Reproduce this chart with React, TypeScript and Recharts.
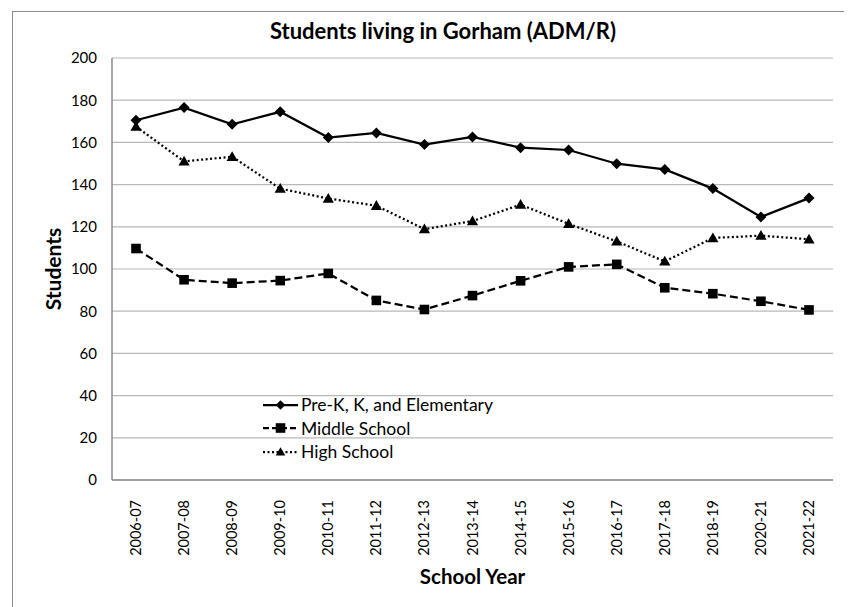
import { LineChart, Line, XAxis, YAxis, CartesianGrid } from "recharts";

const years = [
  "2006-07", "2007-08", "2008-09", "2009-10", "2010-11", "2011-12", "2012-13", "2013-14",
  "2014-15", "2015-16", "2016-17", "2017-18", "2018-19", "2020-21", "2021-22",
];
const elementary = [170.5, 176.5, 168.6, 174.5, 162.3, 164.5, 159, 162.6, 157.5, 156.4, 149.9, 147.2, 138.1, 124.7, 133.6];
const middle = [109.7, 94.9, 93.3, 94.5, 97.9, 85.1, 80.8, 87.4, 94.4, 101, 102.2, 91.1, 88.3, 84.7, 80.6];
const high = [167.5, 151, 153.2, 138.1, 133.4, 130, 118.9, 122.7, 130.5, 121.4, 113.1, 103.6, 114.7, 115.8, 114.1];
const yTicks = [0, 20, 40, 60, 80, 100, 120, 140, 160, 180, 200];

const seriesNames = ["Pre-K, K, and Elementary", "Middle School", "High School"];

const data = years.map((year, i) => ({
  year,
  elementary: elementary[i],
  middle: middle[i],
  high: high[i],
}));

const FONT = "Lato, 'Open Sans', sans-serif";
const GRID = "#b8b8b8";
const AXIS = "#8a8a8a";

function Diamond({ cx, cy, r = 5.5 }: { cx: number; cy: number; r?: number }) {
  return <polygon points={`${cx},${cy - r} ${cx + r},${cy} ${cx},${cy + r} ${cx - r},${cy}`} fill="#000" />;
}
function Square({ cx, cy, r = 4.8 }: { cx: number; cy: number; r?: number }) {
  return <rect x={cx - r} y={cy - r} width={2 * r} height={2 * r} fill="#000" />;
}
function Triangle({ cx, cy, r = 5.6 }: { cx: number; cy: number; r?: number }) {
  return <polygon points={`${cx},${cy - r} ${cx + r},${cy + r * 0.75} ${cx - r},${cy + r * 0.75}`} fill="#000" />;
}

const XTick = ({ x, y, payload }: any) => (
  <text
    x={x}
    y={y + 12}
    transform={`rotate(-90, ${x}, ${y + 12})`}
    textAnchor="end"
    dy="0.35em"
    fontSize={14.5}
    fontFamily={FONT}
    fill="#000"
  >
    {payload.value}
  </text>
);

const legendItems = [
  { name: seriesNames[0], dash: undefined, Mark: Diamond },
  { name: seriesNames[1], dash: "6 3", Mark: Square },
  { name: seriesNames[2], dash: "2 2.5", Mark: Triangle },
];

export default function App() {
  return (
    <div
      style={{
        position: "relative",
        width: 831,
        height: 620,
        marginLeft: 4,
        marginTop: 3,
        border: "1px solid #8c8c8c",
        background: "#fff",
      }}
    >
      <div
        style={{
          position: "absolute",
          top: 8,
          left: 0,
          width: 860,
          lineHeight: "22px",
          textAlign: "center",
          fontFamily: FONT,
          fontWeight: 700,
          fontSize: 22,
          color: "#000",
        }}
      >
        Students living in Gorham (ADM/R)
      </div>
      <LineChart width={831} height={600} data={data} margin={{ top: 46, right: 11, bottom: 22, left: 0 }}>
        <CartesianGrid vertical={false} stroke={GRID} strokeWidth={1.2} />
        <XAxis
          dataKey="year"
          height={110}
          interval={0}
          padding={{ left: 24, right: 24 }}
          tickLine={false}
          axisLine={{ stroke: AXIS, strokeWidth: 1.5 }}
          tick={<XTick />}
          label={({ viewBox }: any) => (
            <text
              x={viewBox.x + viewBox.width / 2}
              y={viewBox.y + viewBox.height - 6}
              textAnchor="middle"
              fontFamily={FONT}
              fontWeight={700}
              fontSize={20.5}
              fill="#000"
            >
              School Year
            </text>
          )}
        />
        <YAxis
          width={99}
          domain={[0, 200]}
          ticks={yTicks}
          interval={0}
          tickLine={false}
          tickSize={0}
          tickMargin={15}
          axisLine={{ stroke: AXIS, strokeWidth: 1.5 }}
          tick={{ fontSize: 15, fontFamily: FONT, fill: "#000" }}
          label={({ viewBox }: any) => (
            <text
              x={41}
              y={viewBox.y + viewBox.height / 2}
              transform={`rotate(-90, 41, ${viewBox.y + viewBox.height / 2})`}
              textAnchor="middle"
              dy="0.35em"
              fontFamily={FONT}
              fontWeight={700}
              fontSize={21}
              fill="#000"
            >
              Students
            </text>
          )}
        />
        <YAxis
          yAxisId="right"
          orientation="right"
          width={0}
          domain={[0, 200]}
          tick={false}
          tickLine={false}
          axisLine={{ stroke: "#555", strokeWidth: 1.2 }}
        />
        <Line
          dataKey="elementary"
          name={seriesNames[0]}
          stroke="#000"
          strokeWidth={2.25}
          dot={(p: any) => <Diamond key={`e${p.index}`} cx={p.cx} cy={p.cy} />}
          isAnimationActive={false}
        />
        <Line
          dataKey="middle"
          name={seriesNames[1]}
          stroke="#000"
          strokeWidth={2.25}
          strokeDasharray="8 4"
          dot={(p: any) => <Square key={`m${p.index}`} cx={p.cx} cy={p.cy} />}
          isAnimationActive={false}
        />
        <Line
          dataKey="high"
          name={seriesNames[2]}
          stroke="#000"
          strokeWidth={2.25}
          strokeDasharray="2 2.5"
          dot={(p: any) => <Triangle key={`h${p.index}`} cx={p.cx} cy={p.cy} />}
          isAnimationActive={false}
        />
      </LineChart>
      <div
        style={{
          position: "absolute",
          left: 250,
          top: 381,
          fontFamily: FONT,
          fontSize: 17.5,
          color: "#000",
        }}
      >
        {legendItems.map((it) => (
          <div key={it.name} style={{ display: "flex", alignItems: "center", height: 23.5 }}>
            <svg width={35} height={14} style={{ marginRight: 3 }}>
              <line x1={0} y1={7} x2={35} y2={7} stroke="#000" strokeWidth={2.25} strokeDasharray={it.dash} />
              <it.Mark cx={17.5} cy={7} r={4.8} />
            </svg>
            <span>{it.name}</span>
          </div>
        ))}
      </div>
    </div>
  );
}
